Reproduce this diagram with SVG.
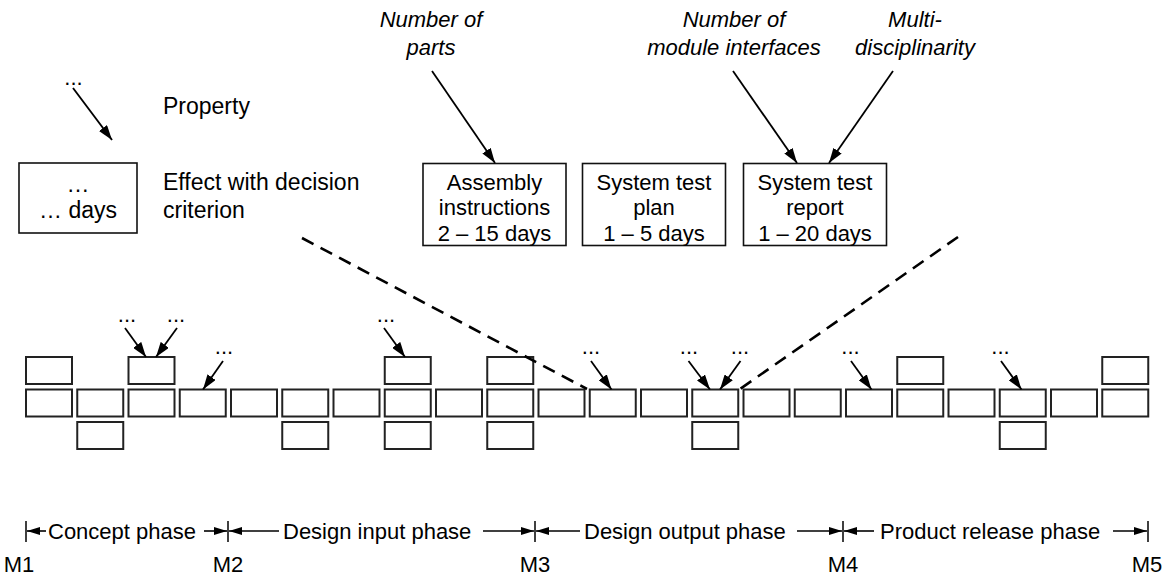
<svg xmlns="http://www.w3.org/2000/svg" width="1169" height="577" viewBox="0 0 1169 577">
<style>
text{font-family:"Liberation Sans",Arial,sans-serif;font-size:22px;fill:#000}
.lg{font-size:23px}
.it{font-style:italic}
.mid{text-anchor:middle}
.dots{font-size:22px;text-anchor:middle}
.box{fill:#fff;stroke:#222;stroke-width:2}
.bigbox{fill:#fff;stroke:#111;stroke-width:1.6}
.arr{stroke:#000;stroke-width:1.8;fill:none;marker-end:url(#ah)}
.parr{stroke:#000;stroke-width:1.6;fill:none;marker-end:url(#ahs)}
.tick{stroke:#000;stroke-width:1.5}
.dash{stroke:#000;stroke-width:2.6;stroke-dasharray:13 8;fill:none}
</style>
<defs>
<marker id="ah" viewBox="0 0 15 10" refX="15" refY="5" markerWidth="15" markerHeight="10" orient="auto" markerUnits="userSpaceOnUse"><path d="M0,0 L15,5 L0,10 z" fill="#000"/></marker>
<marker id="ahs" viewBox="0 0 13 8" refX="13" refY="4" markerWidth="13" markerHeight="8" orient="auto" markerUnits="userSpaceOnUse"><path d="M0,0 L13,4 L0,8 z" fill="#000"/></marker>
</defs>

<g id="legend">
<text class="dots" x="73.5" y="85">...</text>
<text class="lg" x="163" y="114">Property</text>
<rect class="bigbox" x="19" y="163" width="118" height="70"/>
<text class="lg mid" x="78" y="192">…</text>
<text class="lg mid" x="78" y="218">… days</text>
<text class="lg" x="163" y="190">Effect with decision</text>
<text class="lg" x="163" y="218">criterion</text>
</g>

<g id="prop-parts"><text class="it mid" x="431" y="27">Number of</text><text class="it mid" x="431" y="55">parts</text></g>
<g id="prop-interfaces"><text class="it mid" x="734" y="27">Number of</text><text class="it mid" x="734" y="55">module interfaces</text></g>
<g id="prop-multi"><text class="it mid" x="915" y="27">Multi-</text><text class="it mid" x="915" y="55">disciplinarity</text></g>

<g id="effect-assembly"><rect class="bigbox" x="423" y="163.5" width="143" height="82"/>
<text class="mid" x="494.5" y="190">Assembly</text><text class="mid" x="494.5" y="215">instructions</text><text class="mid" x="494.5" y="240.5">2 – 15 days</text></g>
<g id="effect-plan"><rect class="bigbox" x="582.5" y="163.5" width="143" height="82"/>
<text class="mid" x="654" y="190">System test</text><text class="mid" x="654" y="215">plan</text><text class="mid" x="654" y="240.5">1 – 5 days</text></g>
<g id="effect-report"><rect class="bigbox" x="743.5" y="163.5" width="143" height="82"/>
<text class="mid" x="815" y="190">System test</text><text class="mid" x="815" y="215">report</text><text class="mid" x="815" y="240.5">1 – 20 days</text></g>

<g id="process-boxes">
<rect class="box" x="26" y="357" width="46" height="27"/>
<rect class="box" x="128.5" y="357" width="46" height="27"/>
<rect class="box" x="384.75" y="357" width="46" height="27"/>
<rect class="box" x="487.25" y="357" width="46" height="27"/>
<rect class="box" x="897.25" y="357" width="46" height="27"/>
<rect class="box" x="1102.25" y="357" width="46" height="27"/>

<rect class="box" x="26" y="389.5" width="46" height="27"/>
<rect class="box" x="77.25" y="389.5" width="46" height="27"/>
<rect class="box" x="128.5" y="389.5" width="46" height="27"/>
<rect class="box" x="179.75" y="389.5" width="46" height="27"/>
<rect class="box" x="231" y="389.5" width="46" height="27"/>
<rect class="box" x="282.25" y="389.5" width="46" height="27"/>
<rect class="box" x="333.5" y="389.5" width="46" height="27"/>
<rect class="box" x="384.75" y="389.5" width="46" height="27"/>
<rect class="box" x="436" y="389.5" width="46" height="27"/>
<rect class="box" x="487.25" y="389.5" width="46" height="27"/>
<rect class="box" x="538.5" y="389.5" width="46" height="27"/>
<rect class="box" x="589.75" y="389.5" width="46" height="27"/>
<rect class="box" x="641" y="389.5" width="46" height="27"/>
<rect class="box" x="692.25" y="389.5" width="46" height="27"/>
<rect class="box" x="743.5" y="389.5" width="46" height="27"/>
<rect class="box" x="794.75" y="389.5" width="46" height="27"/>
<rect class="box" x="846" y="389.5" width="46" height="27"/>
<rect class="box" x="897.25" y="389.5" width="46" height="27"/>
<rect class="box" x="948.5" y="389.5" width="46" height="27"/>
<rect class="box" x="999.75" y="389.5" width="46" height="27"/>
<rect class="box" x="1051" y="389.5" width="46" height="27"/>
<rect class="box" x="1102.25" y="389.5" width="46" height="27"/>

<rect class="box" x="77.25" y="422" width="46" height="27"/>
<rect class="box" x="282.25" y="422" width="46" height="27"/>
<rect class="box" x="384.75" y="422" width="46" height="27"/>
<rect class="box" x="487.25" y="422" width="46" height="27"/>
<rect class="box" x="692.25" y="422" width="46" height="27"/>
<rect class="box" x="999.75" y="422" width="46" height="27"/>
</g>

<g id="small-labels">
<text class="dots" x="127" y="322">...</text>
<text class="dots" x="176" y="322">...</text>
<text class="dots" x="224" y="354">...</text>
<text class="dots" x="386" y="322">...</text>
<text class="dots" x="591" y="354">...</text>
<text class="dots" x="689" y="354">...</text>
<text class="dots" x="740" y="354">...</text>
<text class="dots" x="850.5" y="354">...</text>
<text class="dots" x="1000.5" y="354">...</text>
</g>

<g id="connectors">
<line class="arr" x1="73" y1="88" x2="112" y2="140"/>
<line class="arr" x1="432" y1="71" x2="495" y2="163"/>
<line class="arr" x1="733" y1="71" x2="797" y2="163"/>
<line class="arr" x1="893" y1="71" x2="829" y2="163"/>
<line class="arr" x1="125" y1="328" x2="146" y2="357"/>
<line class="arr" x1="177" y1="328" x2="156" y2="357"/>
<line class="arr" x1="223" y1="361" x2="203" y2="389.5"/>
<line class="arr" x1="384" y1="328" x2="405" y2="357"/>
<line class="arr" x1="591" y1="361" x2="611.5" y2="389.5"/>
<line class="arr" x1="688.5" y1="361" x2="710" y2="389.5"/>
<line class="arr" x1="740.5" y1="361" x2="720" y2="389.5"/>
<line class="arr" x1="851" y1="361" x2="871.5" y2="389.5"/>
<line class="arr" x1="1001" y1="361" x2="1021.5" y2="389.5"/>
<line class="dash" x1="302" y1="238" x2="587" y2="389"/>
<line class="dash" x1="958" y1="237" x2="740" y2="389"/>
</g>

<g id="timeline">
<line class="tick" x1="26" y1="521" x2="26" y2="542"/>
<line class="tick" x1="228" y1="521" x2="228" y2="542"/>
<line class="tick" x1="535" y1="521" x2="535" y2="542"/>
<line class="tick" x1="843" y1="521" x2="843" y2="542"/>
<line class="tick" x1="1148" y1="521" x2="1148" y2="542"/>
<line class="parr" x1="46" y1="531" x2="27" y2="531"/>
<line class="parr" x1="204" y1="531" x2="227" y2="531"/>
<line class="parr" x1="279" y1="531" x2="229" y2="531"/>
<line class="parr" x1="483" y1="531" x2="534" y2="531"/>
<line class="parr" x1="580" y1="531" x2="536" y2="531"/>
<line class="parr" x1="797" y1="531" x2="842" y2="531"/>
<line class="parr" x1="874" y1="531" x2="844" y2="531"/>
<line class="parr" x1="1113" y1="531" x2="1147" y2="531"/>
<text x="48" y="539">Concept phase</text>
<text x="283" y="539">Design input phase</text>
<text x="584" y="539">Design output phase</text>
<text x="880" y="539">Product release phase</text>
<text class="mid" x="19" y="572">M1</text>
<text class="mid" x="228" y="572">M2</text>
<text class="mid" x="535" y="572">M3</text>
<text class="mid" x="843" y="572">M4</text>
<text class="mid" x="1147" y="572">M5</text>
</g>
</svg>
